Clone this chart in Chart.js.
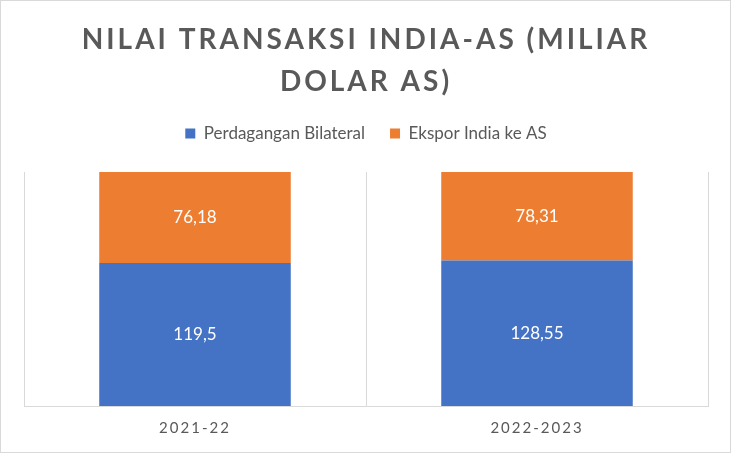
<!DOCTYPE html>
<html>
<head>
<meta charset="utf-8">
<script src="https://cdn.jsdelivr.net/npm/chart.js@4.4.0/dist/chart.umd.min.js"></script>
<style>
  html, body { margin: 0; padding: 0; background: #fff; }
  #wrap { width: 731px; height: 453px; box-sizing: border-box; border: 1px solid #d9d9d9; }
</style>
</head>
<body>
<div id="wrap"><canvas id="chart" width="729" height="451"></canvas></div>
<script>
const categories = ['2021-22', '2022-2023'];
const bilateral = [119.5, 128.55];
const exportIndia = [76.18, 78.31];
const seriesNames = ['Perdagangan Bilateral', 'Ekspor India ke AS'];
const titleLines = ['NILAI TRANSAKSI INDIA-AS (MILIAR', 'DOLAR AS)'];

const grey = '#595959';

// 100% stacked: share of each category total
const totals = categories.map((c, i) => bilateral[i] + exportIndia[i]);
const share = arr => arr.map((v, i) => v / totals[i] * 100);

// letter spacing for title and axis labels, extra room under the legend
const spacingPlugin = {
  id: 'spacing',
  beforeLayout(chart) {
    const lg = chart.legend;
    if (lg && !lg._extraFit) {
      const origFit = lg.fit;
      lg.fit = function() {
        origFit.call(this);
        this.height += 20;
      };
      lg._extraFit = true;
    }
  },
  afterLayout(chart) {
    const wrap = (obj, key, sp) => {
      if (!obj || obj['_wrapped_' + key]) return;
      const orig = obj[key];
      obj[key] = function(...args) {
        const ctx = chart.ctx;
        ctx.save();
        ctx.letterSpacing = sp;
        orig.apply(this, args);
        ctx.restore();
      };
      obj['_wrapped_' + key] = true;
    };
    wrap(chart.titleBlock, 'draw', '3px');
    wrap(chart.scales.x, 'drawLabels', '2px');
  }
};

// values written inside the bar segments
const valueLabels = {
  id: 'valueLabels',
  afterDatasetsDraw(chart) {
    const ctx = chart.ctx;
    ctx.save();
    ctx.fillStyle = '#ffffff';
    ctx.font = '17px Lato';
    ctx.textAlign = 'center';
    ctx.textBaseline = 'middle';
    chart.data.datasets.forEach((ds, di) => {
      chart.getDatasetMeta(di).data.forEach((bar, i) => {
        const y = (bar.y + bar.base) / 2;
        ctx.fillText(String(ds.raw[i]).replace('.', ','), bar.x, y);
      });
    });
    ctx.restore();
  }
};

new Chart(document.getElementById('chart'), {
  type: 'bar',
  data: {
    labels: categories,
    datasets: [
      { label: seriesNames[0], data: share(bilateral), raw: bilateral, backgroundColor: '#4472C4' },
      { label: seriesNames[1], data: share(exportIndia), raw: exportIndia, backgroundColor: '#ED7D31' }
    ]
  },
  options: {
    responsive: false,
    animation: false,
    events: [],
    layout: { padding: { left: 23, right: 22, top: 0, bottom: 2 } },
    datasets: { bar: { categoryPercentage: 1, barPercentage: 0.56 } },
    scales: {
      x: {
        stacked: true,
        grid: { color: '#d9d9d9', offset: true, drawTicks: false },
        border: { color: '#d9d9d9' },
        ticks: { color: grey, font: { family: 'Lato', size: 15 }, padding: 13 }
      },
      y: {
        stacked: true,
        display: false,
        min: 0,
        max: 100
      }
    },
    plugins: {
      title: {
        display: true,
        text: titleLines,
        color: grey,
        font: { family: 'Lato', size: 28, weight: 'bold', lineHeight: 1.5 },
        padding: { top: 18, bottom: -3 }
      },
      legend: {
        position: 'top',
        labels: {
          color: grey,
          font: { family: 'Lato', size: 17 },
          boxWidth: 10,
          boxHeight: 10,
          padding: 25
        }
      },
      tooltip: { enabled: false }
    }
  },
  plugins: [spacingPlugin, valueLabels]
});
</script>
</body>
</html>
